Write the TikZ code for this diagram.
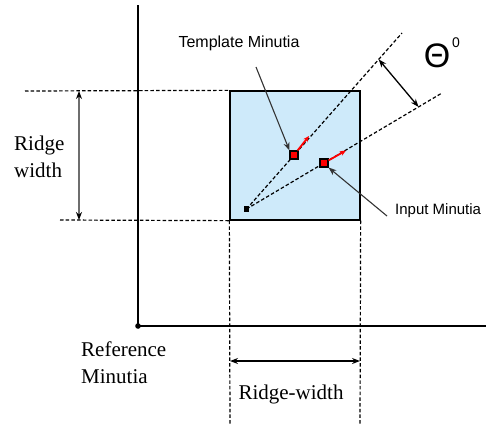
\documentclass[tikz,border=0pt]{standalone}
\usepackage{fontspec}
\setmainfont{Liberation Serif}
\newfontfamily\labelsans{Liberation Sans}
\usetikzlibrary{arrows.meta,calc}
\definecolor{windowblue}{RGB}{206,234,250}
\definecolor{ridgegray}{RGB}{110,110,110}
\begin{document}
\begin{tikzpicture}[x=1pt, y=-1pt,
	dash line/.style={line width=1.2pt, dash pattern=on 3.5pt off 2.2pt},
	serif label/.style={font=\fontsize{21}{27}\selectfont, inner sep=0pt, align=left},
	sans label/.style={font=\labelsans\fontsize{16}{18}\selectfont, inner sep=0pt},
	minutia/.style={draw=black, fill=red, minimum size=8pt, inner sep=0pt, line width=1.1pt},
	pointer/.style={-{Stealth[length=8pt,width=6pt]}, line width=1.1pt, black!80},
	dimarrow/.style={{Stealth[black,length=8pt,width=6pt]}-{Stealth[black,length=8pt,width=6pt]}}]
	\useasboundingbox (0,0) rectangle (486,424);
	% axes
	\coordinate (top) at (138,5);
	\coordinate (ref) at (138,326);
	\coordinate (right) at (486,326);
	\draw[line width=1.3pt] (top) -- (ref) -- (right);
	\fill (ref) circle (2.8pt);
	% ridge window
	\node[draw, fill=windowblue, line width=1.3pt, minimum width=130pt, minimum height=129pt, inner sep=0pt] (box) at (295,155.5) {};
	\coordinate (tl) at (25,91);
	\coordinate (bl) at (60,220);
	\coordinate (bwl) at (230,424);
	\coordinate (bwr) at (360,424);
	\draw[dash line] (tl) -- (box.north west);
	\draw[dash line] (bl) -- (box.south west);
	\draw[dash line] (box.south west) -- (bwl);
	\draw[dash line] (box.south east) -- (bwr);
	% ridge width, left
	\coordinate (rwtop) at (79,91);
	\coordinate (rwbot) at (79,220);
	\draw[dimarrow, ridgegray, line width=2.6pt] (rwtop) -- (rwbot);
	\node[serif label, anchor=west] (rwleft) at (14,157) {Ridge\\width};
	% ridge width, bottom
	\coordinate (rwl) at (230,361);
	\coordinate (rwr) at (360,361);
	\draw[dimarrow, line width=1.3pt] (rwl) -- (rwr);
	\node[serif label] (rwbottom) at (291,394) {Ridge-width};
	\node[serif label, anchor=west] (reflabel) at (81,363) {Reference\\Minutia};
	% minutiae and their directions
	\coordinate (ray1) at (402,33);
	\coordinate (ray2) at (442,93);
	\node[fill=black, minimum size=5.5pt, inner sep=0pt] (o) at (246.5,209) {};
	\draw[dash line] (o.center) -- (ray1);
	\draw[dash line] (o.center) -- (ray2);
	\node[minutia] (tm) at (294,155) {};
	\node[minutia] (im) at (324,163) {};
	\coordinate (tmdir) at (309,136);
	\coordinate (imdir) at (346,150.5);
	\draw[-{Stealth[length=6pt,width=5pt]}, red, line width=1.8pt] (tm) -- (tmdir);
	\draw[-{Stealth[length=6pt,width=5pt]}, red, line width=1.8pt] (im) -- (imdir);
	% angle between them
	\coordinate (a1) at ($(o)!0.85!(ray1)$);
	\coordinate (a2) at ($(o)!0.88!(ray2)$);
	\draw[dimarrow, line width=1.3pt] (a1) -- (a2);
	\node[font=\labelsans\fontsize{34}{34}\selectfont, inner sep=0pt] (theta) at (437,56) {Θ};
	\node[font=\labelsans\fontsize{14}{14}\selectfont, inner sep=0pt] (deg) at (456,43) {0};
	% labels
	\node[sans label] (tmlabel) at (239,43) {Template Minutia};
	\coordinate (tmfrom) at (256,67);
	\draw[pointer] (tmfrom) -- (tm.north west);
	\node[sans label, font=\labelsans\fontsize{15}{17}\selectfont, anchor=west] (imlabel) at (395,211) {Input Minutia};
	\coordinate (imfrom) at (387,216);
	\draw[pointer] (imfrom) -- (im.south east);
\end{tikzpicture}
\end{document}
